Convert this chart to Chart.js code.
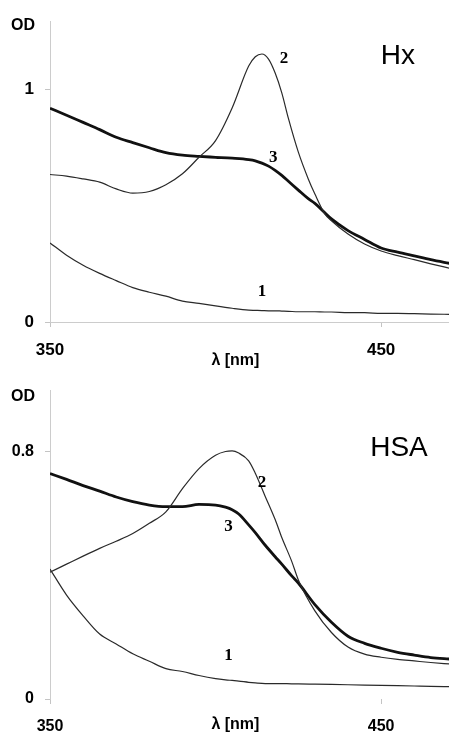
<!DOCTYPE html>
<html>
<head>
<meta charset="utf-8">
<script src="https://cdn.jsdelivr.net/npm/chart.js@4.4.1/dist/chart.umd.min.js"></script>
<style>
  html, body { margin: 0; padding: 0; background: #ffffff; }
  body { width: 449px; height: 734px; position: relative; overflow: hidden; }
  canvas { position: absolute; left: 0; }
  #hx { top: 0; }
  #hsa { top: 370px; }
</style>
</head>
<body>
<canvas id="hx" width="449" height="370"></canvas>
<canvas id="hsa" width="449" height="364"></canvas>
<script>
// ---------- DATA ----------
// Panel Hx
const hxWave = [350,355,360,365,370,375,380,385,390,395,400,405,410,412,414,416,418,420,422,425,428,430,433,435,440,445,450,455,460,465,471];
const hxCurve1 = [0.340,0.287,0.244,0.209,0.178,0.148,0.128,0.111,0.090,0.080,0.069,0.059,0.051,0.050,0.049,0.048,0.048,0.047,0.046,0.044,0.044,0.044,0.043,0.043,0.040,0.040,0.037,0.037,0.036,0.034,0.033];
const hxCurve2 = [0.634,0.627,0.615,0.601,0.572,0.554,0.561,0.590,0.637,0.708,0.780,0.920,1.100,1.140,1.152,1.130,1.070,0.985,0.875,0.730,0.615,0.550,0.465,0.435,0.378,0.335,0.305,0.285,0.268,0.250,0.230];
const hxCurve3 = [0.919,0.889,0.858,0.827,0.794,0.771,0.749,0.728,0.717,0.712,0.708,0.704,0.698,0.693,0.683,0.670,0.652,0.630,0.605,0.567,0.530,0.510,0.470,0.443,0.393,0.355,0.318,0.300,0.284,0.268,0.251];
// Panel HSA
const hsaWave = [350,355,360,365,370,375,380,385,390,395,400,403,405,407,410,412,415,418,420,423,425,430,435,440,445,450,455,460,465,471];
const hsaCurve1 = [0.420,0.336,0.269,0.210,0.178,0.146,0.122,0.098,0.089,0.076,0.066,0.062,0.060,0.058,0.054,0.052,0.050,0.050,0.050,0.049,0.049,0.048,0.047,0.046,0.045,0.044,0.043,0.042,0.041,0.040];
const hsaCurve2 = [0.410,0.436,0.462,0.487,0.510,0.535,0.568,0.605,0.680,0.745,0.788,0.800,0.802,0.795,0.770,0.730,0.655,0.580,0.522,0.445,0.385,0.285,0.215,0.168,0.145,0.135,0.128,0.123,0.118,0.113];
const hsaCurve3 = [0.729,0.710,0.690,0.672,0.653,0.638,0.627,0.622,0.622,0.629,0.627,0.620,0.612,0.598,0.563,0.538,0.497,0.460,0.436,0.398,0.375,0.305,0.248,0.203,0.180,0.164,0.151,0.142,0.134,0.129];
// Ticks
const xTickValues = [350, 450];
const hxYTickValues = [0, 1];
const hsaYTickValues = [0, 0.8];
// Curve labels
const curveLabels = ['1', '2', '3'];
const hxLabelNm = [414.0, 420.7, 417.4];
const hxLabelOD = [0.130, 1.133, 0.708];
const hsaLabelNm = [403.9, 414.0, 403.9];
const hsaLabelOD = [0.140, 0.701, 0.558];
// Texts
const yTitle = 'OD';
const xTitle = 'λ [nm]';
const hxTitle = 'Hx';
const hsaTitle = 'HSA';

// ---------- RENDER ----------
const pts = (xs, ys) => xs.map((x, i) => ({x: x, y: ys[i]}));
const thin = {borderColor: '#2a2a2a', borderWidth: 1.2};
const thick = {borderColor: '#111111', borderWidth: 2.8};

function makeDatasets(wave, c1, c2, c3) {
  return [
    Object.assign({label: '1', data: pts(wave, c1)}, thin),
    Object.assign({label: '2', data: pts(wave, c2)}, thin),
    Object.assign({label: '3', data: pts(wave, c3)}, thick)
  ];
}

const textPlugin = {
  id: 'texts',
  afterDraw(chart, args, o) {
    const ctx = chart.ctx, xs = chart.scales.x, ys = chart.scales.y, ca = chart.chartArea;
    ctx.save();
    ctx.fillStyle = '#000';
    // OD title
    ctx.font = 'bold 16px "Liberation Sans", Arial, sans-serif';
    ctx.textAlign = 'center'; ctx.textBaseline = 'middle';
    ctx.fillText(yTitle, 23, ca.top + o.odDy);
    // x title
    ctx.fillText(xTitle, xs.getPixelForValue(406), o.xTitleY);
    // panel title
    ctx.font = '28px "Liberation Sans", Arial, sans-serif';
    ctx.textAlign = 'left'; ctx.textBaseline = 'alphabetic';
    ctx.fillText(o.title, xs.getPixelForValue(o.titleNm), ys.getPixelForValue(o.titleOD));
    // curve labels
    ctx.font = 'bold 17px "Liberation Serif", "Times New Roman", serif';
    ctx.textAlign = 'center'; ctx.textBaseline = 'middle';
    for (let i = 0; i < curveLabels.length; i++) {
      ctx.fillText(curveLabels[i], xs.getPixelForValue(o.labelNm[i]), ys.getPixelForValue(o.labelOD[i]));
    }
    ctx.restore();
  }
};

function makeChart(id, datasets, yMax, yTicks, xAxisH, topPad, showXBorder, tickFont, xPad, textOpts) {
  return new Chart(document.getElementById(id), {
    type: 'line',
    data: {datasets: datasets},
    plugins: [textPlugin],
    options: {
      responsive: false,
      animation: false,
      devicePixelRatio: 1,
      layout: {padding: {top: topPad, left: 0, right: 0, bottom: 0}},
      elements: {point: {radius: 0}, line: {tension: 0, cubicInterpolationMode: 'monotone'}},
      plugins: {legend: {display: false}, tooltip: {enabled: false}, texts: textOpts},
      scales: {
        x: {
          type: 'linear', min: 350, max: 470.5,
          afterBuildTicks: s => { s.ticks = xTickValues.map(v => ({value: v})); },
          afterFit: s => { s.height = xAxisH; },
          grid: {drawOnChartArea: false, drawTicks: true, tickLength: 5, color: '#c4c4c4', lineWidth: 1},
          border: {display: showXBorder, color: '#cccccc', width: 1},
          ticks: {color: '#000', font: {family: '"Liberation Sans", Arial, sans-serif', size: tickFont, weight: 'bold'}, padding: xPad, maxRotation: 0, autoSkip: false,
                  callback: v => String(v)}
        },
        y: {
          type: 'linear', min: 0, max: yMax,
          afterBuildTicks: s => { s.ticks = yTicks.map(v => ({value: v})); },
          afterFit: s => { s.width = 50; },
          grid: {drawOnChartArea: false, drawTicks: true, tickLength: 5, color: '#c4c4c4', lineWidth: 1},
          border: {display: true, color: '#cccccc', width: 1},
          ticks: {color: '#000', font: {family: '"Liberation Sans", Arial, sans-serif', size: tickFont, weight: 'bold'}, padding: 11,
                  callback: v => String(v)}
        }
      }
    }
  });
}

makeChart('hx', makeDatasets(hxWave, hxCurve1, hxCurve2, hxCurve3), 1.293, hxYTickValues, 48, 20, true, 17, 13,
  {odDy: 4, xTitleY: 361, title: hxTitle, titleNm: 449.9, titleOD: 1.108, labelNm: hxLabelNm, labelOD: hxLabelOD});
makeChart('hsa', makeDatasets(hsaWave, hsaCurve1, hsaCurve2, hsaCurve3), 0.997, hsaYTickValues, 35, 15, false, 16, 13,
  {odDy: 5.5, xTitleY: 354.5, title: hsaTitle, titleNm: 446.7, titleOD: 0.785, labelNm: hsaLabelNm, labelOD: hsaLabelOD});
</script>
</body>
</html>
